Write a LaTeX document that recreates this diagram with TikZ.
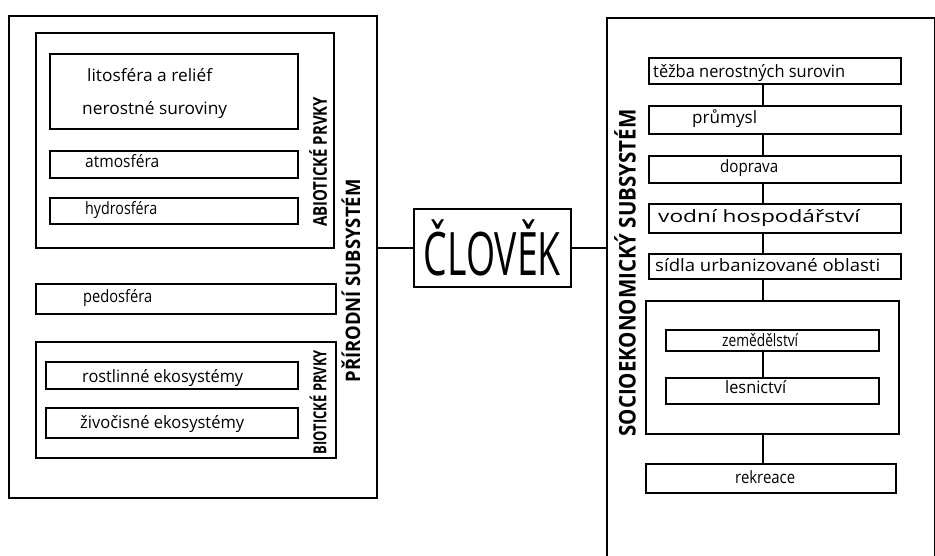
\documentclass[tikz,border=0pt]{standalone}
\usepackage{fontspec}
\usepackage{graphicx}
\newfontfamily\handfont{Open Sans}
% squeeze a text to a given width (in pt), keeping its height
\newcommand{\fitw}[2]{\resizebox{#1pt}{\height}{#2}}

\begin{document}
\begin{tikzpicture}[x=1pt,y=-1pt,
    box/.style={draw, line width=1.6pt, anchor=north west, inner sep=0pt},
    lbl/.style={anchor=base west, inner sep=0pt, font=\handfont\fontsize{17}{20}\selectfont},
    caps/.style={rotate=90, inner sep=0pt, font=\handfont\bfseries\fontsize{#1}{#1}\selectfont},
    caps/.default=19,
    link/.style={line width=1.6pt}]

    % page frame : 935 x 556
    \fill[white] (0,0) rectangle (935,556);
    \useasboundingbox (0,0) rectangle (935,556);

    % --- natural subsystem (left) ---
    \node[box, minimum width=368pt, minimum height=482pt] (prirodni) at (8,15) {};
    \node[box, minimum width=298pt, minimum height=215pt] (abioticke) at (35,32) {};
    \node[box, minimum width=248pt, minimum height=75pt] (litosfera) at (49,53) {};
    \node[box, minimum width=248pt, minimum height=27pt] (atmosfera) at (49,150) {};
    \node[box, minimum width=248pt, minimum height=26pt] (hydrosfera) at (49,197) {};
    \node[box, minimum width=300pt, minimum height=30pt] (pedosfera) at (35,283) {};
    \node[box, minimum width=300pt, minimum height=116pt] (bioticke) at (35,341) {};
    \node[box, minimum width=252pt, minimum height=27pt] (rostlinne) at (45,361) {};
    \node[box, minimum width=252pt, minimum height=30pt] (zivocisne) at (45,407) {};

    \node[lbl] (t-lito) at (87,82) {\fitw{125}{litosféra a reliéf}};
    \node[lbl] (t-nero) at (82,115) {\fitw{145}{nerostné suroviny}};
    \node[lbl] (t-atmo) at (85,168) {\fitw{74}{atmosféra}};
    \node[lbl] (t-hydro) at (85,215) {\fitw{72}{hydrosféra}};
    \node[lbl] (t-pedo) at (83,303) {\fitw{69}{pedosféra}};
    \node[lbl] (t-rost) at (82,382) {\fitw{161}{rostlinné ekosystémy}};
    \node[lbl] (t-ziv) at (80,428) {\fitw{164}{živočisné ekosystémy}};

    \node[caps] (t-abio) at (318,162) {\fitw{130}{ABIOTICKÉ PRVKY}};
    \node[caps=18] (t-bio) at (318,402) {\fitw{104}{BIOTICKÉ PRVKY}};
    \node[caps=20] (t-prir) at (351,281) {\fitw{203}{PŘÍRODNÍ SUBSYSTÉM}};

    % --- man in the middle ---
    \node[box, minimum width=157pt, minimum height=78pt,
          font=\handfont\fontsize{60}{60}\selectfont] (clovek) at (413,208) {\fitw{137}{ČLOVĚK}};

    % --- socioeconomic subsystem (right), open at the bottom ---
    \node[box, draw=none, minimum width=326pt, minimum height=560pt] (socio) at (607,18) {};
    \draw[link] (socio.south west) -- (socio.north west) -- (socio.north east) -- (socio.south east);
    \node[box, minimum width=252pt, minimum height=26pt] (tezba) at (648,57) {};
    \node[box, minimum width=252pt, minimum height=28pt] (prumysl) at (648,105) {};
    \node[box, minimum width=252pt, minimum height=27pt] (doprava) at (648,155) {};
    \node[box, minimum width=252pt, minimum height=29pt] (vodni) at (648,203) {};
    \node[box, minimum width=252pt, minimum height=25pt] (sidla) at (648,253) {};
    \node[box, minimum width=253pt, minimum height=133pt] (lesy) at (645,300) {};
    \node[box, minimum width=213pt, minimum height=21pt] (zemedelstvi) at (665,329) {};
    \node[box, minimum width=213pt, minimum height=26pt] (lesnictvi) at (665,377) {};
    \node[box, minimum width=250pt, minimum height=29pt] (rekreace) at (645,463) {};

    \node[lbl] (t-tezba) at (653,78) {\fitw{192}{těžba nerostných surovin}};
    \node[lbl] (t-prum) at (692,124) {\fitw{65}{průmysl}};
    \node[lbl] (t-dopr) at (720,173) {\fitw{58}{doprava}};
    \node[lbl] (t-vodni) at (658,223) {\fitw{202}{vodní hospodářství}};
    \node[lbl] (t-sidla) at (655,272) {\fitw{225}{sídla urbanizované oblasti}};
    \node[lbl] (t-zem) at (722,346) {\fitw{76}{zemědělství}};
    \node[lbl] (t-les) at (725,393) {\fitw{61}{lesnictví}};
    \node[lbl] (t-rekr) at (735,483) {\fitw{60}{rekreace}};

    \node[caps=23] (t-socio) at (625,273) {\fitw{327}{SOCIOEKONOMICKÝ SUBSYSTÉM}};

    % connectors
    \draw[link] (clovek.west) -- (clovek.west -| prirodni.east);
    \draw[link] (clovek.east) -- (clovek.east -| socio.west);
    \coordinate (spine) at (763,0);
    \foreach \a/\b in {tezba/prumysl, prumysl/doprava, doprava/vodni, vodni/sidla,
                       sidla/lesy, lesy/rekreace, zemedelstvi/lesnictvi}
        \draw[link] (\a.south -| spine) -- (\b.north -| spine);
\end{tikzpicture}
\end{document}
